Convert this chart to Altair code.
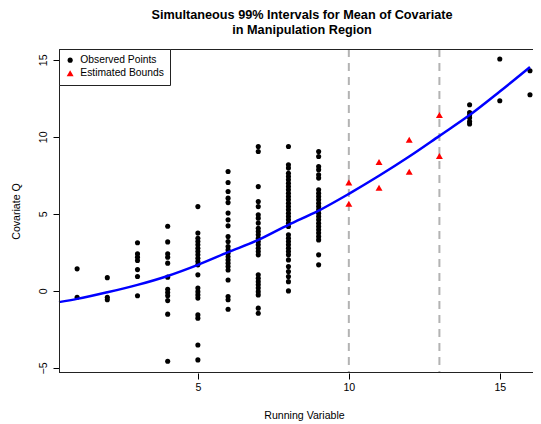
import altair as alt
import pandas as pd

# ---- data ----
obs_cols = {
    1: [1.43, -0.41],
    2: [0.86, -0.41, -0.58],
    3: [3.12, 2.40, 2.19, 1.97, 1.38, 0.93, -0.32],
    4: [4.20, 3.18, 2.40, 2.19, 1.80, 0.89, 0.11, -0.11, -0.32, -0.63, -1.51, -4.57],
    5: [5.47, 3.75, 3.42, 3.20, 2.99, 2.77, 2.55, 2.34, 2.12, 1.90, 1.69, 1.04,
        0.18, -0.05, -0.26, -0.47, -1.56, -1.77, -3.51, -4.48],
    6: [7.75, 7.03, 6.45, 6.02, 5.73, 5.05, 4.61, 4.22, 3.53, 3.20, 2.88, 2.66,
        2.45, 2.23, 2.01, 1.80, 1.58, 1.36, 0.71, -0.37, -0.58, -1.19],
    7: [9.37, 9.05, 6.77, 5.80, 5.47, 4.94, 4.72, 4.40, 4.07, 3.85, 3.64, 3.42,
        3.20, 2.99, 2.77, 2.55, 2.34, 1.04, 0.82, 0.60, 0.39, 0.18, -0.05, -0.26,
        -1.12, -1.45],
    8: [9.37, 8.18, 7.97, 7.64, 7.42, 7.21, 6.99, 6.77, 6.56, 6.34, 6.12, 5.91,
        5.69, 5.47, 5.26, 5.04, 4.82, 4.61, 4.39, 4.18, 3.64, 3.42, 3.20, 2.99,
        2.77, 2.55, 2.34, 2.01, 1.58, 1.25, 0.93, 0.60, 0.0],
    9: [9.05, 8.72, 8.07, 7.86, 7.53, 7.32, 6.56, 6.34, 6.12, 5.91, 5.69, 5.47,
        5.26, 5.04, 4.82, 4.61, 4.39, 4.18, 3.96, 3.75, 3.53, 3.31, 2.34, 1.69],
    14: [12.08, 11.58, 11.41, 11.23, 10.99, 10.84],
    15: [15.05, 12.34],
    16: [14.29, 12.73],
}

bound_x = [10, 10, 11, 11, 12, 12, 13, 13]
bound_y = [7.03, 5.65, 8.36, 6.69, 9.81, 7.73, 11.41, 8.75]

curve_x = [0.4, 1, 2, 3, 4, 5, 6, 7, 8, 9, 10, 11, 12, 13, 14, 15, 16]
curve_y = [-0.73, -0.52, -0.09, 0.39, 0.97, 1.69, 2.51, 3.31, 4.29, 5.21, 6.30,
           7.47, 8.72, 10.06, 11.41, 12.94, 14.53]

region_x = [10, 13]

x_ticks = [5, 10, 15]
y_ticks = [-5, 0, 5, 10, 15]

series_names = ["Observed Points", "Estimated Bounds"]

# ---- tables ----
rows = []
for xv, ys in obs_cols.items():
    for yv in ys:
        rows.append({"x": xv, "y": yv, "series": series_names[0]})
for xv, yv in zip(bound_x, bound_y):
    rows.append({"x": xv, "y": yv, "series": series_names[1]})
pts = pd.DataFrame(rows)
curve = pd.DataFrame({"x": curve_x, "y": curve_y})
regions = pd.DataFrame({"x": region_x})
one = pd.DataFrame({"a": [0]})

W, H = 474, 324
FONT = "Liberation Sans"

xscale = alt.Scale(domain=[0.4, 16.1], nice=False, zero=False)
yscale = alt.Scale(domain=[-5.33, 15.70], nice=False, zero=False)

xaxis = alt.Axis(values=x_ticks, title="Running Variable", grid=False, domain=False,
                 tickSize=6, tickColor="black", labelPadding=3, labelFontSize=10.6,
                 titleFontSize=10.6, titleFontWeight="normal", titleX=245, titleY=42,
                 titleBaseline="middle", labelFlush=False)
yaxis = alt.Axis(values=y_ticks, title="Covariate Q", grid=False, domain=False,
                 tickSize=6, tickColor="black", labelPadding=5, labelFontSize=10.6,
                 labelAngle=270, labelAlign="center", labelBaseline="bottom",
                 titleFontSize=10.6, titleFontWeight="normal", titleX=-43,
                 titleBaseline="middle", labelFlush=False)

rules = alt.Chart(regions).mark_rule(color="#b3b3b3", strokeWidth=2,
                                     strokeDash=[8, 6]).encode(
    x=alt.X("x:Q", scale=xscale, axis=xaxis))

points = alt.Chart(pts).mark_point(filled=True, opacity=1).encode(
    x=alt.X("x:Q", scale=xscale, axis=xaxis),
    y=alt.Y("y:Q", scale=yscale, axis=yaxis),
    color=alt.Color("series:N", scale=alt.Scale(domain=series_names,
                                                range=["black", "#ff0000"]),
                    legend=alt.Legend(title=None)),
    shape=alt.Shape("series:N", scale=alt.Scale(domain=series_names,
                                                range=["circle", "triangle-up"]),
                    legend=alt.Legend(title=None)),
    size=alt.Size("series:N", scale=alt.Scale(domain=series_names, range=[26, 48]),
                  legend=None),
)

line = alt.Chart(curve).mark_line(color="#0000ff", strokeWidth=2.5,
                                  interpolate="monotone").encode(
    x=alt.X("x:Q", scale=xscale, axis=xaxis),
    y=alt.Y("y:Q", scale=yscale, axis=yaxis),
)

top_b = alt.Chart(one).mark_rule(color="#222", strokeWidth=1).encode(
    x=alt.value(0), x2=alt.value(W), y=alt.value(0.5))
bot_b = alt.Chart(one).mark_rule(color="#222", strokeWidth=1).encode(
    x=alt.value(0), x2=alt.value(W), y=alt.value(H - 0.5))
left_b = alt.Chart(one).mark_rule(color="#222", strokeWidth=1).encode(
    x=alt.value(0.5), y=alt.value(0), y2=alt.value(H))

title = alt.TitleParams(
    text=["Simultaneous 99% Intervals for Mean of Covariate",
          "\u00a0" * 7 + "in Manipulation Region"],
    fontSize=12.7, fontWeight="bold", font=FONT, anchor="middle", dx=6,
    offset=11, lineHeight=15, color="black")

chart = alt.layer(rules, points, line, top_b, bot_b, left_b).properties(
    width=W, height=H, title=title,
    padding={"left": 51, "top": 41, "right": 0, "bottom": 51},
    autosize=alt.AutoSizeParams(type="none"),
).configure_view(stroke=None).configure_axis(
    labelFont=FONT, titleFont=FONT, labelColor="black", titleColor="black",
).configure_legend(
    orient="top-left", offset=0, strokeColor="#222", fillColor="white",
    padding=6, cornerRadius=0, labelFont=FONT, labelFontSize=10.3,
    labelColor="black", symbolSize=26, symbolStrokeWidth=0, labelOffset=5,
    rowPadding=2,
)

chart.save("out.html", embed_options={"renderer": "svg", "actions": False})
